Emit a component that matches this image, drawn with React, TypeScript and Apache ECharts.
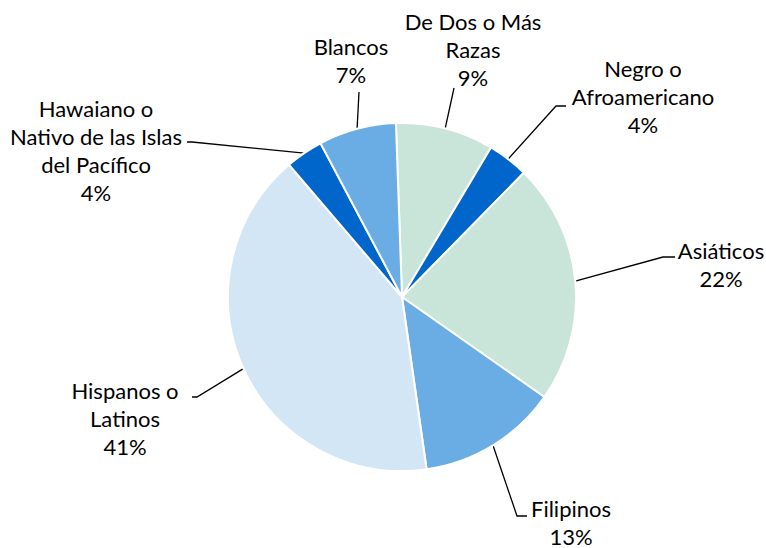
import React, { useEffect, useRef } from "react";
import * as echarts from "echarts";

const categories = [
  "De Dos o Más\nRazas",
  "Negro o\nAfroamericano",
  "Asiáticos",
  "Filipinos",
  "Hispanos o\nLatinos",
  "Hawaiano o\nNativo de las Islas\ndel Pacífico",
  "Blancos",
];
const values = [9.1, 3.8, 22.4, 13.0, 41.0, 3.5, 7.2];
const percentLabels = ["9%", "4%", "22%", "13%", "41%", "4%", "7%"];
const colors = ["#C9E5DA", "#0066CC", "#C9E5DA", "#6AACE4", "#D3E6F6", "#0066CC", "#6AACE4"];

// label layout: [center x, top y, elbow points...]
const labelPlacement: { x: number; y: number; line: number[][] }[] = [
  { x: 473, y: 7, line: [[454, 88]] },
  { x: 643, y: 54, line: [[556, 106], [566, 106]] },
  { x: 721, y: 236, line: [[663, 257], [675, 257]] },
  { x: 571, y: 494, line: [[517, 516], [527, 516]] },
  { x: 125, y: 376, line: [[197, 397], [192, 397]] },
  { x: 96, y: 94, line: [[192, 142], [187, 142]] },
  { x: 351, y: 32, line: [[359, 92]] },
];

export default function App() {
  const ref = useRef<HTMLDivElement>(null);
  useEffect(() => {
    if (!ref.current) return;
    const chart = echarts.init(ref.current, undefined, { renderer: "svg" });
    chart.setOption({
      animation: false,
      backgroundColor: "#ffffff",
      series: [
        {
          type: "pie",
          center: [402, 297],
          radius: 174,
          startAngle: 92,
          clockwise: true,
          data: categories.map((name, i) => ({
            name,
            value: values[i],
            itemStyle: { color: colors[i] },
          })),
          itemStyle: { borderColor: "#ffffff", borderWidth: 2 },
          label: {
            show: true,
            position: "outside",
            formatter: (p: any) => `${p.name}\n${percentLabels[p.dataIndex]}`,
            fontFamily: "Lato",
            fontSize: 22,
            lineHeight: 28,
            color: "#000000",
            align: "center",
          },
          labelLine: {
            show: true,
            lineStyle: { color: "#000000", width: 1.3 },
          },
          labelLayout: (params: any) => {
            const pl = labelPlacement[params.dataIndex];
            const start = params.labelLinePoints ? params.labelLinePoints[0] : pl.line[0];
            return {
              x: pl.x,
              y: pl.y,
              align: "center",
              verticalAlign: "top",
              labelLinePoints: [start, ...pl.line],
            };
          },
          emphasis: { disabled: true },
        },
      ],
    });
    return () => chart.dispose();
  }, []);
  return (
    <div
      ref={ref}
      style={{ position: "fixed", left: 0, top: 0, width: 766, height: 548 }}
    />
  );
}
